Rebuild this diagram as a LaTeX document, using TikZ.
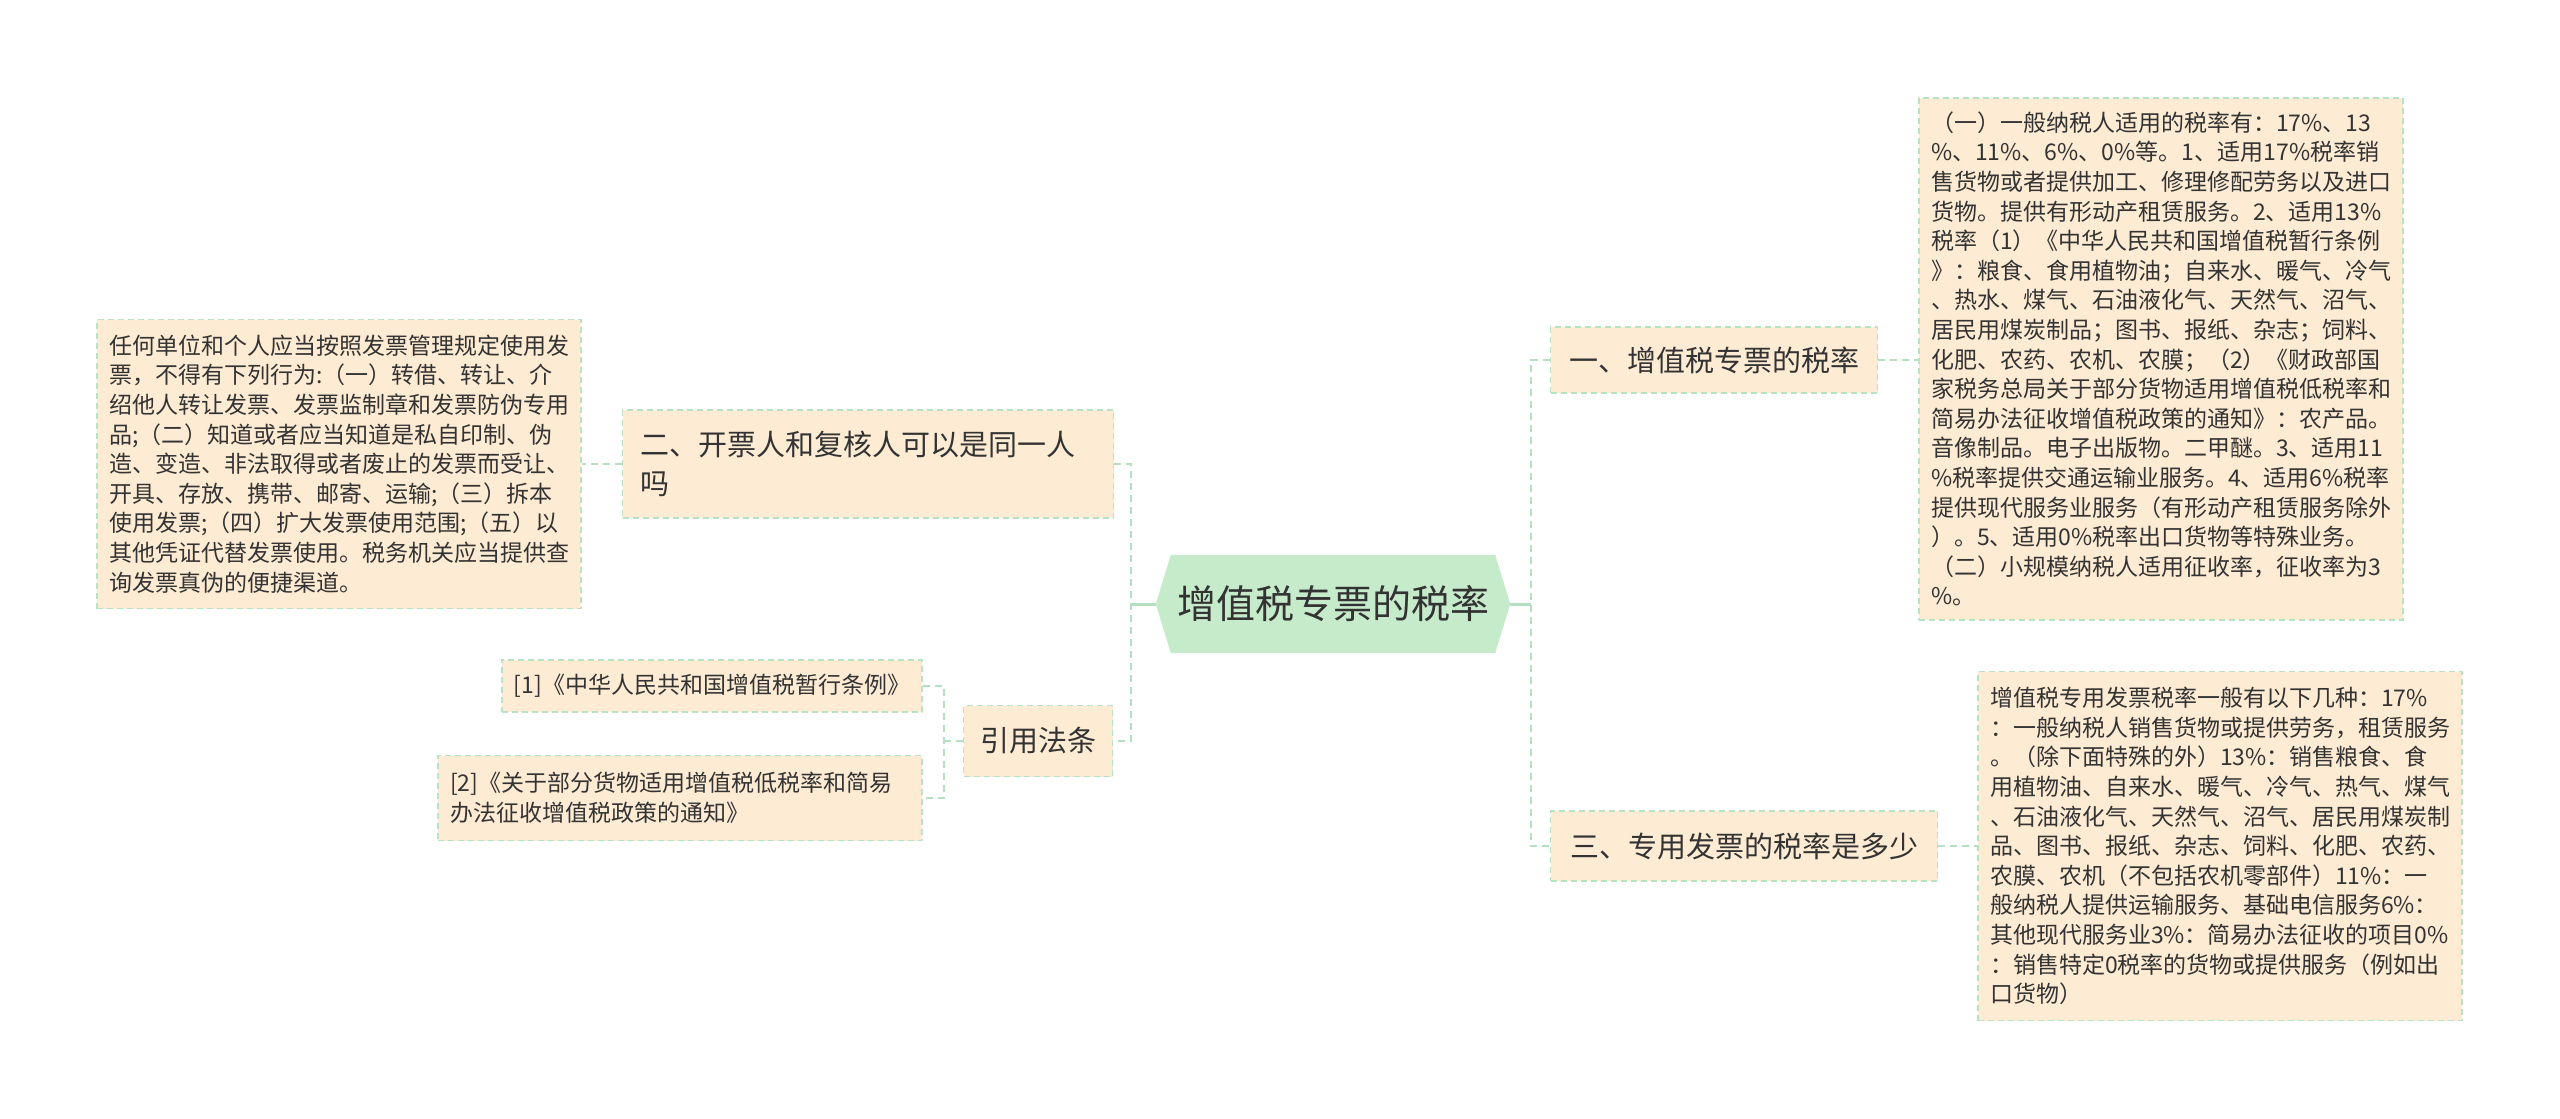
\documentclass[tikz,border=0pt]{standalone}
\usepackage{fontspec}
\setmainfont{Noto Sans CJK SC}
\usetikzlibrary{backgrounds}
\definecolor{boxfill}{HTML}{FDEBD3}
\definecolor{boxline}{HTML}{B8E2C4}
\definecolor{hexfill}{HTML}{C6EBCB}
\definecolor{conn}{HTML}{B5DFC1}
\definecolor{txt}{HTML}{333333}
\begin{document}
\begin{tikzpicture}[x=1pt,y=-1pt,
  box/.style={draw=boxline, fill=boxfill, line width=1.5pt, dash pattern=on 6pt off 4pt, text=txt, inner sep=0pt},
  small/.style={box, font=\fontsize{23}{29.6}\selectfont, align=left, text width=460pt, inner xsep=12pt, inner ysep=13pt},
  ref/.style={box, font=\fontsize{23}{29.6}\selectfont, align=left, inner xsep=12pt, inner ysep=12pt},
  mid/.style={box, font=\fontsize{29}{39}\selectfont, align=left},
  link/.style={draw=conn, line width=2pt, dash pattern=on 7pt off 5pt},
  solidlink/.style={draw=conn, line width=3pt},
]
\useasboundingbox (0,0) rectangle (2560,1119);

% central topic
\node[text=txt, font=\fontsize{39}{46}\selectfont, minimum width=354pt, minimum height=98pt, inner sep=0pt] (c) at (1333,604) {增值税专票的税率};
\begin{scope}[on background layer]
\fill[white] (0,0) rectangle (2560,1119);
\fill[hexfill] ([xshift=15pt]c.north west) -- ([xshift=-15pt]c.north east) -- (c.east) -- ([xshift=-15pt]c.south east) -- ([xshift=15pt]c.south west) -- (c.west) -- cycle;
\end{scope}

% right side
\node[mid, minimum width=327pt, minimum height=66pt] (n1) at (1714,360) {一、增值税专票的税率};
\node[mid, minimum width=387pt, minimum height=70pt] (n3) at (1744,846) {三、专用发票的税率是多少};

\node[small, minimum height=522pt] (rt) at (2161,359) {（一）一般纳税人适用的税率有：17\%、13\\
\%、11\%、6\%、0\%等。1、适用17\%税率销\\
售货物或者提供加工、修理修配劳务以及进口\\
货物。提供有形动产租赁服务。2、适用13\%\\
税率（1）《中华人民共和国增值税暂行条例\\
》：粮食、食用植物油；自来水、暖气、冷气\\
、热水、煤气、石油液化气、天然气、沼气、\\
居民用煤炭制品；图书、报纸、杂志；饲料、\\
化肥、农药、农机、农膜；（2）《财政部国\\
家税务总局关于部分货物适用增值税低税率和\\
简易办法征收增值税政策的通知》：农产品。\\
音像制品。电子出版物。二甲醚。3、适用11\\
\%税率提供交通运输业服务。4、适用6\%税率\\
提供现代服务业服务（有形动产租赁服务除外\\
）。5、适用0\%税率出口货物等特殊业务。\\
（二）小规模纳税人适用征收率，征收率为3\\
\%。};

\node[small, minimum height=349pt] (rb) at (2220,846) {增值税专用发票税率一般有以下几种：17\%\\
：一般纳税人销售货物或提供劳务，租赁服务\\
。（除下面特殊的外）13\%：销售粮食、食\\
用植物油、自来水、暖气、冷气、热气、煤气\\
、石油液化气、天然气、沼气、居民用煤炭制\\
品、图书、报纸、杂志、饲料、化肥、农药、\\
农膜、农机（不包括农机零部件）11\%：一\\
般纳税人提供运输服务、基础电信服务6\%：\\
其他现代服务业3\%：简易办法征收的项目0\%\\
：销售特定0税率的货物或提供服务（例如出\\
口货物）};

% left side
\node[mid, text width=455pt, inner xsep=18pt, minimum height=108pt] (n2) at (868,464) {二、开票人和复核人可以是同一人\\吗};
\node[mid, minimum width=149pt, minimum height=71pt] (law) at (1038,741) {引用法条};

\node[small, minimum height=289pt] (lb) at (339,464) {任何单位和个人应当按照发票管理规定使用发\\
票，不得有下列行为:（一）转借、转让、介\\
绍他人转让发票、发票监制章和发票防伪专用\\
品;（二）知道或者应当知道是私自印制、伪\\
造、变造、非法取得或者废止的发票而受让、\\
开具、存放、携带、邮寄、运输;（三）拆本\\
使用发票;（四）扩大发票使用范围;（五）以\\
其他凭证代替发票使用。税务机关应当提供查\\
询发票真伪的便捷渠道。};

\node[ref, minimum width=419pt, minimum height=52pt] (b1) at (712,686) {[1]《中华人民共和国增值税暂行条例》};
\node[ref, text width=460pt, minimum height=85pt] (b2) at (680,798) {[2]《关于部分货物适用增值税低税率和简易\\办法征收增值税政策的通知》};

% connectors
\coordinate (rj) at (1531,604);
\coordinate (lj) at (1131,604);
\coordinate (llj) at (944,741);
\draw[solidlink] (c.east) -- (rj);
\draw[solidlink] (c.west) -- (lj);
\draw[link] (n1.west) -| (rj) |- (n3.west);
\draw[link] (n2.east) -| (lj) |- (law.east);
\draw[link] (n1.east) -- (rt.west |- n1.east);
\draw[link] (n3.east) -- (rb.west |- n3.east);
\draw[link] (n2.west) -- (lb.east |- n2.west);
\draw[link] (law.west) -- (llj);
\draw[link] (b1.east) -| (llj) |- (b2.east);
\end{tikzpicture}
\end{document}
